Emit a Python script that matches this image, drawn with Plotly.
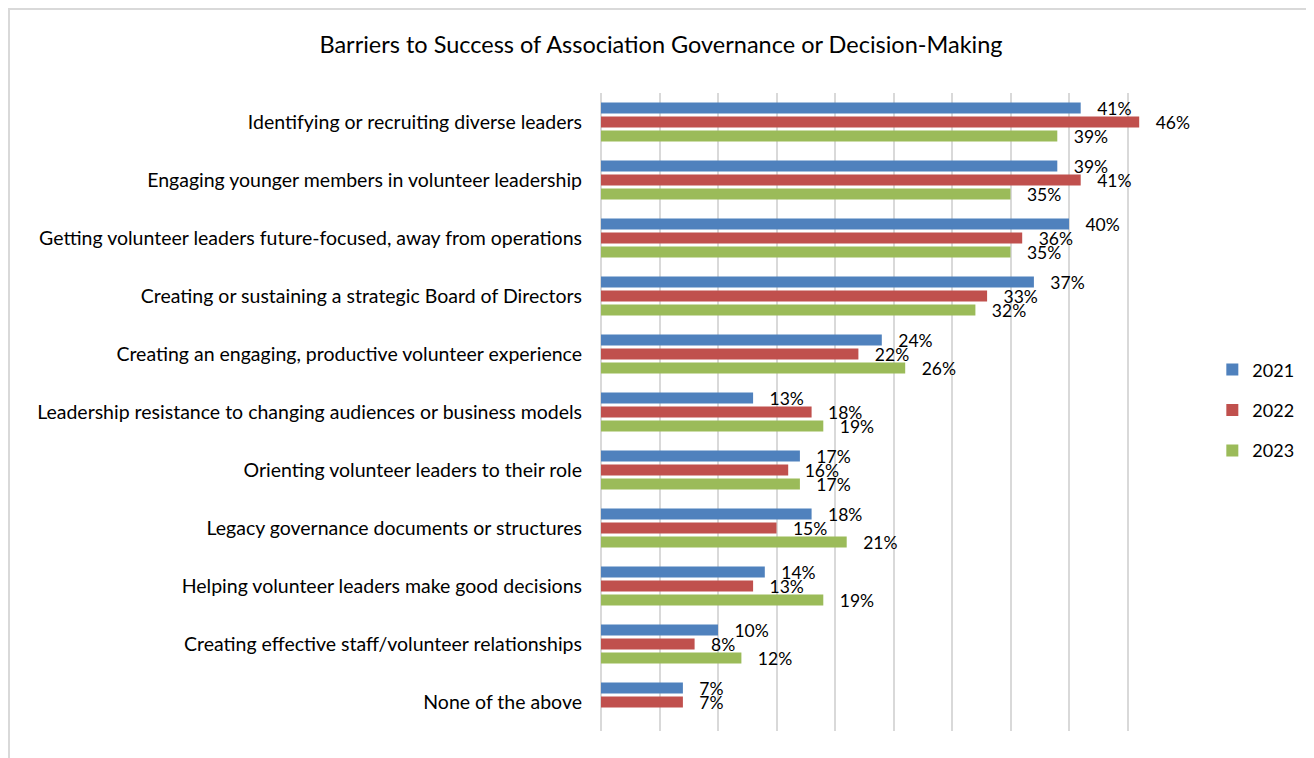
import plotly.graph_objects as go

# Survey data (percent of respondents)
categories = [
    "Identifying or recruiting diverse leaders",
    "Engaging younger members in volunteer leadership",
    "Getting volunteer leaders future-focused, away from operations",
    "Creating or sustaining a strategic Board of Directors",
    "Creating an engaging, productive volunteer experience",
    "Leadership resistance to changing audiences or business models",
    "Orienting volunteer leaders to their role",
    "Legacy governance documents or structures",
    "Helping volunteer leaders make good decisions",
    "Creating effective staff/volunteer relationships",
    "None of the above",
]
years = ["2021", "2022", "2023"]
vals_2021 = [41, 39, 40, 37, 24, 13, 17, 18, 14, 10, 7]
vals_2022 = [46, 41, 36, 33, 22, 18, 16, 15, 13, 8, 7]
vals_2023 = [39, 35, 35, 32, 26, 19, 17, 21, 19, 12, None]

colors = ["#4F81BD", "#C0504D", "#9BBB59"]
FONT = "Lato, 'Open Sans', sans-serif"

# page body has an 8px margin, so the figure is a bit smaller than the window
W, H = 1306, 750
L, R, T, B = 593, 128, 85, 27
pw = W - L - R
ph = H - T - B

fig = go.Figure()
for i, (yr, vals) in enumerate(zip(years, [vals_2021, vals_2022, vals_2023])):
    fig.add_trace(go.Bar(
        y=categories, x=vals, name=yr, orientation="h",
        marker=dict(color=colors[i], line=dict(width=0)),
        text=[("\u00a0\u00a0\u00a0" + f"{v}%") if v is not None else "" for v in vals],
        textposition="outside", constraintext="none", cliponaxis=False,
        textfont=dict(family=FONT, size=17.5, color="black"),
        legendgroup=yr, hoverinfo="skip",
    ))

fig.update_layout(
    width=W, height=H,
    margin=dict(l=L, r=R, t=T, b=B),
    paper_bgcolor="white", plot_bgcolor="white",
    barmode="group", bargap=0.276, bargroupgap=0.2,
    title=dict(text="Barriers to Success of Association Governance or Decision-Making",
               x=0.5, xanchor="center", y=0.951, yanchor="middle",
               font=dict(family=FONT, size=23.5, color="black")),
    legend=dict(x=1.045, xanchor="left", y=0.595, yanchor="top",
                font=dict(family=FONT, size=18, color="black"),
                tracegroupgap=14, bgcolor="rgba(0,0,0,0)"),
    font=dict(family=FONT, color="black"),
    showlegend=True,
)
fig.update_xaxes(range=[0, 50], dtick=5, showticklabels=False,
                 showgrid=True, gridcolor="#d9d9d9", gridwidth=1.5,
                 zeroline=True, zerolinecolor="#d9d9d9", zerolinewidth=1.5,
                 showline=False)
fig.update_yaxes(autorange="reversed", showgrid=False, showline=False,
                 ticks="", ticklabelstandoff=18,
                 tickfont=dict(family=FONT, size=19.5, color="black"))

# outer chart frame
fig.add_shape(type="rect", xref="paper", yref="paper",
              x0=(1 - L) / pw, x1=(W - 2 - L) / pw,
              y0=-0.2, y1=(H - 1 - B) / ph,
              line=dict(color="#d9d9d9", width=2), layer="below")

fig.write_html("out.html")
